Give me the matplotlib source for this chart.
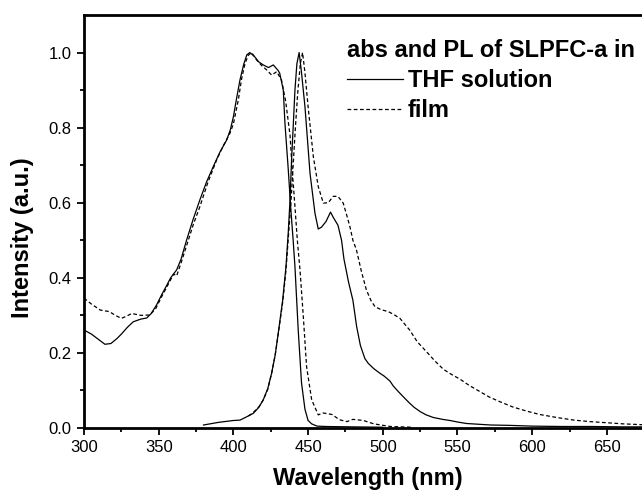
import numpy as np
import matplotlib
matplotlib.use("Agg")
import matplotlib.pyplot as plt

plt.rcParams['font.family'] = ['Liberation Sans', 'DejaVu Sans']

# absorption, THF solution
abs_sol_x = [300, 305, 310, 314, 318, 322, 325, 329, 333, 338, 342, 345, 348.6, 352, 355, 358, 362, 365,
             368.7, 373, 377.6, 382, 386.5, 391, 395.5, 398, 400, 402, 404.4, 407, 409, 411, 414, 417, 420,
             423.5, 426.7, 430, 431, 433.4, 434.5, 436.7, 438.5, 440, 441.2, 443.4, 445.6, 447.9, 450,
             452.4, 456, 462, 480, 500]
abs_sol_y = [0.261, 0.25, 0.235, 0.223, 0.225, 0.238, 0.25, 0.268, 0.283, 0.29, 0.293, 0.305, 0.328, 0.355,
             0.377, 0.40, 0.421, 0.45, 0.501, 0.555, 0.608, 0.655, 0.696, 0.735, 0.767, 0.795, 0.829, 0.875,
             0.927, 0.97, 0.994, 1.0, 0.99, 0.975, 0.967, 0.96, 0.967, 0.952, 0.945, 0.9, 0.812, 0.69, 0.58,
             0.5, 0.43, 0.26, 0.12, 0.05, 0.02, 0.011, 0.005, 0.004, 0.003, 0.002]

# absorption, film
abs_film_x = [300, 305, 311, 317, 321, 325, 328, 332, 338, 344, 348, 352, 356, 360, 362, 365, 369, 373,
              377.6, 383, 388.8, 393, 397.7, 400, 403.3, 405.5, 407.8, 410, 412.2, 415.6, 419, 422.2, 425.6,
              429, 432.2, 435, 437.9, 439.5, 441.2, 442.8, 444.6, 446.8, 449, 452.4, 456.8, 460, 466, 471,
              476, 480, 487, 494, 505, 520]
abs_film_y = [0.346, 0.33, 0.314, 0.31, 0.30, 0.292, 0.297, 0.305, 0.30, 0.301, 0.318, 0.35, 0.38, 0.41,
              0.405, 0.44, 0.49, 0.54, 0.59, 0.655, 0.714, 0.75, 0.785, 0.81, 0.874, 0.93, 0.971, 0.993, 1.0,
              0.98, 0.965, 0.954, 0.94, 0.949, 0.927, 0.87, 0.78, 0.68, 0.59, 0.5, 0.42, 0.297, 0.163, 0.075,
              0.035, 0.04, 0.036, 0.022, 0.017, 0.023, 0.02, 0.011, 0.004, 0.002]

# PL, THF solution
pl_sol_x = [380, 390, 400, 404.4, 408, 413.3, 417, 420, 423, 425.6, 428, 430, 433, 435.2, 436.7, 437.9, 439,
            440, 441.2, 442.5, 444, 445.5, 447.9, 451.3, 454.6, 456.8, 459, 462, 465, 467, 470, 472.4, 474,
            477, 480, 482.5, 485, 488, 490.3, 494, 498, 501, 504.8, 507, 510.4, 514, 518, 521, 524.9, 529,
            533.8, 540, 545, 550, 556, 564, 572, 585, 600, 620, 640, 660, 680]
pl_sol_y = [0.008, 0.015, 0.02, 0.021, 0.028, 0.039, 0.055, 0.075, 0.105, 0.146, 0.195, 0.252, 0.341, 0.43,
            0.519, 0.607, 0.72, 0.8, 0.9, 0.97, 1.0, 0.95, 0.856, 0.678, 0.572, 0.53, 0.535, 0.55, 0.575,
            0.56, 0.54, 0.5, 0.45, 0.39, 0.34, 0.27, 0.22, 0.185, 0.172, 0.158, 0.146, 0.138, 0.125, 0.112,
            0.097, 0.082, 0.066, 0.055, 0.044, 0.035, 0.028, 0.023, 0.02, 0.016, 0.012, 0.01, 0.008, 0.007,
            0.005, 0.004, 0.004, 0.003, 0.003]

# PL, film
pl_film_x = [410, 413, 417, 420, 423, 425.6, 428, 430, 433, 435.2, 437, 438.5, 440, 441.5, 443, 444.8,
             446.3, 447.8, 450, 453.5, 456.8, 460.2, 463.5, 466.8, 470, 473.5, 476, 478, 480, 482.4, 485.5,
             489, 492, 494.8, 499, 503.7, 507.5, 511.5, 515, 518, 523, 529.3, 535, 540.4, 545, 551.7, 558,
             565, 571, 578.4, 587, 596.3, 605, 616.4, 628, 638.7, 650, 661, 672.5, 680]
pl_film_y = [0.032, 0.04, 0.056, 0.075, 0.103, 0.146, 0.195, 0.25, 0.335, 0.42, 0.52, 0.6, 0.7, 0.8, 0.89,
             0.97, 1.0, 0.95, 0.856, 0.723, 0.643, 0.599, 0.6, 0.617, 0.617, 0.599, 0.565, 0.536, 0.5, 0.474,
             0.42, 0.368, 0.34, 0.323, 0.315, 0.31, 0.302, 0.292, 0.275, 0.261, 0.23, 0.203, 0.178, 0.157,
             0.145, 0.13, 0.113, 0.097, 0.083, 0.07, 0.056, 0.045, 0.036, 0.028, 0.021, 0.017, 0.014, 0.011,
             0.009, 0.008]

fig = plt.figure(figsize=(6.42, 4.95), dpi=100)
ax = fig.add_axes([84/642, 67/495, 567.7/642, 413/495])

dash = (0, (3, 2))
ax.plot(abs_sol_x, abs_sol_y, 'k-', lw=0.9, label='THF solution')
ax.plot(abs_film_x, abs_film_y, color='k', ls=dash, lw=0.9, label='film')
ax.plot(pl_sol_x, pl_sol_y, 'k-', lw=0.9)
ax.plot(pl_film_x, pl_film_y, color='k', ls=dash, lw=0.9)

ax.set_xlim(300, 680)
ax.set_ylim(0, 1.1)
ax.set_xticks(np.arange(300, 651, 50))
ax.set_xticks(np.arange(325, 680, 50), minor=True)
ax.set_yticks(np.arange(0, 1.01, 0.2))
ax.set_yticks(np.arange(0.1, 1.1, 0.2), minor=True)
ax.yaxis.set_major_formatter(matplotlib.ticker.FormatStrFormatter('%.1f'))
ax.tick_params(which='major', length=5, width=1.3, labelsize=12, pad=4)
ax.tick_params(which='minor', length=3, width=1.3)
for s in ax.spines.values():
    s.set_linewidth(2)

ax.set_xlabel('Wavelength (nm)', fontsize=17, fontweight='bold', labelpad=8)
ax.set_ylabel('Intensity (a.u.)', fontsize=17, fontweight='bold')
ax.yaxis.set_label_coords(-0.088, 0.461)

ax.legend(title='abs and PL of SLPFC-a in', loc='upper left',
          bbox_to_anchor=(347/642, 1 - 39/495), bbox_transform=fig.transFigure,
          frameon=False, borderpad=0, borderaxespad=0, handlelength=2.37,
          handletextpad=0.21, labelspacing=0.3, alignment='left',
          prop={'size': 17, 'weight': 'bold'},
          title_fontproperties={'size': 17, 'weight': 'bold'})

fig.savefig('out.png', dpi=100)
